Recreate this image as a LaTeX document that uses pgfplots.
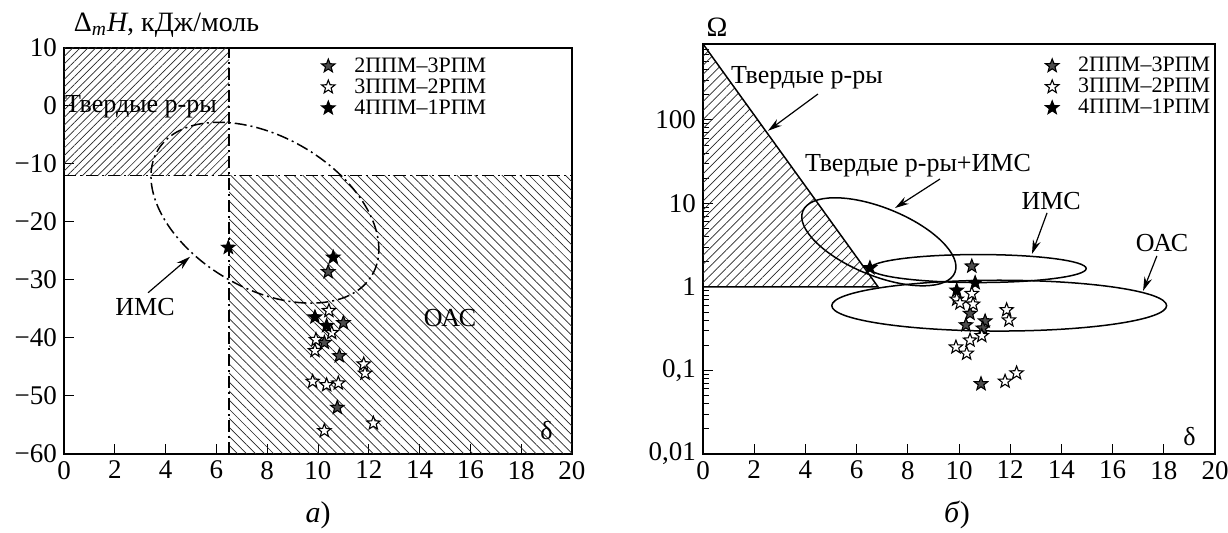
\documentclass[border=0pt]{standalone}
\usepackage{fontspec}
\setmainfont{Liberation Serif}
\usepackage{pgfplots}
\pgfplotsset{compat=1.18}
\usetikzlibrary{patterns.meta,arrows.meta}

\pgfdeclareplotmark{star5}{%
  \pgfpathmoveto{\pgfpointpolar{90}{\pgfplotmarksize}}%
  \pgfpathlineto{\pgfpointpolar{126}{0.42\pgfplotmarksize}}%
  \pgfpathlineto{\pgfpointpolar{162}{\pgfplotmarksize}}%
  \pgfpathlineto{\pgfpointpolar{198}{0.42\pgfplotmarksize}}%
  \pgfpathlineto{\pgfpointpolar{234}{\pgfplotmarksize}}%
  \pgfpathlineto{\pgfpointpolar{270}{0.42\pgfplotmarksize}}%
  \pgfpathlineto{\pgfpointpolar{306}{\pgfplotmarksize}}%
  \pgfpathlineto{\pgfpointpolar{342}{0.42\pgfplotmarksize}}%
  \pgfpathlineto{\pgfpointpolar{18}{\pgfplotmarksize}}%
  \pgfpathlineto{\pgfpointpolar{54}{0.42\pgfplotmarksize}}%
  \pgfpathclose
  \pgfusepathqfillstroke
}

\newcommand{\lbl}{\fontsize{13}{15}\selectfont}
\newcommand{\tlbl}{\fontsize{13.5}{15}\selectfont}

\tikzset{dd/.style={line width=0.75pt, dash pattern=on 6pt off 2pt on 1pt off 2pt}}

\pgfplotsset{
  base/.style={
    scale only axis, anchor=south west,
    xmin=0, xmax=20, xtick={0,2,...,20},
    tick align=inside, tick pos=left,
    major tick length=5pt, minor tick length=3pt,
    axis line style={line width=0.6pt},
    every tick/.style={line width=0.5pt, black},
    tick label style={font=\tlbl},
    /pgf/number format/assume math mode=true,
    legend style={draw=none, fill=none, anchor=north west, inner sep=0pt,
      font=\fontsize{11}{11}\selectfont, row sep=0.5pt,
      nodes={inner sep=1pt, text height=7pt, text depth=1pt}},
    legend cell align=left,
    legend image code/.code={%
      \path[draw=none, fill=none, pattern=none] (0pt,-3pt) (20pt,3pt);
      \draw[##1] plot coordinates {(8pt,0pt)};},
  },
  halfstar/.style={only marks, mark=star5, mark size=3.5pt, mark options={draw=black, fill=black!70, line width=0.55pt}},
  hollowstar/.style={only marks, mark=star5, mark size=3.5pt, mark options={draw=black, fill=white, line width=0.55pt}},
  fullstar/.style={only marks, mark=star5, mark size=3.5pt, mark options={draw=black, fill=black, line width=0.55pt}},
}

\begin{document}
\begin{tikzpicture}
\useasboundingbox (0,0) rectangle (614pt,266.5pt);

% ---------------- panel a ----------------
\begin{axis}[base, at={(32pt,39.5pt)}, width=254pt, height=203pt,
  ymin=-60, ymax=10, ytick={-60,-50,...,10},
  yticklabels={−60,−50,−40,−30,−20,−10,0,10},
  legend style={at={(axis description cs:0.488,0.981)}},
]
\fill[pattern={Lines[angle=45,distance=2.7pt,line width=0.35pt]}, pattern color=black!85]
  (axis cs:0,-12) rectangle (axis cs:6.5,10);
\fill[pattern={Lines[angle=-45,distance=3.2pt,line width=0.35pt]}, pattern color=black!85]
  (axis cs:6.5,-60) rectangle (axis cs:20,-12);
\draw[dd] (axis cs:6.5,-60) -- (axis cs:6.5,10);
\draw[dd] (axis cs:0,-12) -- (axis cs:20,-12);
\draw[dd, rotate around={-30:(axis cs:7.91,-18.4)}]
  (axis cs:7.91,-18.4) ellipse [x radius=62pt, y radius=38pt];
\draw[-{Stealth[length=7pt,width=4pt]}, line width=0.6pt]
  (axis cs:3.31,-32.2) -- (axis cs:4.96,-26.0);
\node[font=\lbl] at (axis cs:3.03,-0.2) {Твердые р-ры};
\node[font=\lbl] at (axis cs:3.19,-34.7) {ИМС};
\node[font=\lbl] at (axis cs:15.2,-36.6) {ОАС};
\node[font=\lbl] at (axis cs:19.0,-56) {δ};

\addplot[halfstar] coordinates {
  (10.4,-28.6) (11.0,-37.4) (10.84,-43.1) (10.76,-52.0) (10.25,-40.8)};
\addlegendentry{2ППМ–3РПМ}
\addplot[hollowstar] coordinates {
  (10.43,-35.3) (10.54,-39.1) (9.92,-40.3) (9.88,-42.2) (11.8,-44.5)
  (11.85,-46.1) (9.79,-47.5) (10.34,-48.1) (10.8,-47.8) (12.18,-54.7) (10.25,-56.0)};
\addlegendentry{3ППМ–2РПМ}
\addplot[fullstar] coordinates {
  (6.47,-24.4) (10.6,-26.1) (9.88,-36.4) (10.34,-37.9)};
\addlegendentry{4ППМ–1РПМ}
\end{axis}

% ---------------- panel b ----------------
\begin{axis}[base, at={(351.5pt,39.5pt)}, width=256pt, height=205pt,
  ymode=log, ymin=0.01, ymax=810,
  ytick={0.01,0.1,1,10,100},
  yticklabels={{0,01},{0,1},1,10,100},
  minor ytick={0.02,0.03,0.04,0.05,0.06,0.07,0.08,0.09,
    0.2,0.3,0.4,0.5,0.6,0.7,0.8,0.9,2,3,4,5,6,7,8,9,
    20,30,40,50,60,70,80,90,200,300,400,500,600,700,800},
  legend style={at={(axis description cs:0.650,0.972)}},
]
\fill[pattern={Lines[angle=45,distance=3.2pt,line width=0.35pt]}, pattern color=black!85]
  (axis cs:0,810) -- (axis cs:6.84,1) -- (axis cs:0,1) -- cycle;
\draw[line width=0.75pt] (axis cs:0,810) -- (axis cs:6.84,1) -- (axis cs:0,1);
\draw[line width=0.75pt] (axis cs:10.75,1.66) ellipse [x radius=54pt, y radius=7pt];
\draw[line width=0.75pt] (axis cs:11.57,0.597) ellipse [x radius=83.7pt, y radius=12.7pt];
\draw[line width=0.75pt, rotate around={-22:(axis cs:6.87,3.47)}]
  (axis cs:6.87,3.47) ellipse [x radius=41pt, y radius=17pt];
\draw[-{Stealth[length=7pt,width=4pt]}, line width=0.6pt]
  (axis cs:4.49,204) -- (axis cs:2.54,74);
\draw[-{Stealth[length=7pt,width=4pt]}, line width=0.6pt]
  (axis cs:9.26,19.6) -- (axis cs:7.5,8.8);
\draw[-{Stealth[length=7pt,width=4pt]}, line width=0.6pt]
  (axis cs:13.44,7.7) -- (axis cs:12.85,2.48);
\draw[-{Stealth[length=7pt,width=4pt]}, line width=0.6pt]
  (axis cs:17.73,2.35) -- (axis cs:17.19,0.896);
\node[font=\lbl] at (axis cs:4.06,316) {Твердые р-ры};
\node[font=\lbl] at (axis cs:8.4,28) {Твердые р-ры+ИМС};
\node[font=\lbl] at (axis cs:13.6,10.7) {ИМС};
\node[font=\lbl] at (axis cs:17.93,3.37) {ОАС};
\node[font=\lbl] at (axis cs:19.0,0.016) {δ};

\addplot[halfstar] coordinates {
  (10.5,1.77) (10.43,0.48) (10.27,0.35) (11.02,0.39) (10.93,0.32) (10.86,0.069)};
\addlegendentry{2ППМ–3РПМ}
\addplot[hollowstar] coordinates {
  (10.5,0.83) (9.91,0.71) (10.04,0.64) (10.55,0.62) (11.86,0.53) (11.95,0.40)
  (10.89,0.26) (10.43,0.23) (9.88,0.19) (10.3,0.16) (11.8,0.074) (12.25,0.093)};
\addlegendentry{3ППМ–2РПМ}
\addplot[fullstar] coordinates {
  (6.52,1.69) (10.63,1.12) (9.91,0.91)};
\addlegendentry{4ППМ–1РПМ}
\end{axis}

\node[font=\fontsize{14}{16}\selectfont] at (83.25pt,254pt) {Δ\textsubscript{\textit{m}}\textit{H}, кДж/моль};
\node[font=\fontsize{14}{16}\selectfont] at (358.5pt,253pt) {Ω};
\node[font=\fontsize{15}{17}\selectfont] at (159pt,9pt) {\textit{а})};
\node[font=\fontsize{15}{17}\selectfont] at (478.5pt,9pt) {\textit{б})};
\end{tikzpicture}
\end{document}
